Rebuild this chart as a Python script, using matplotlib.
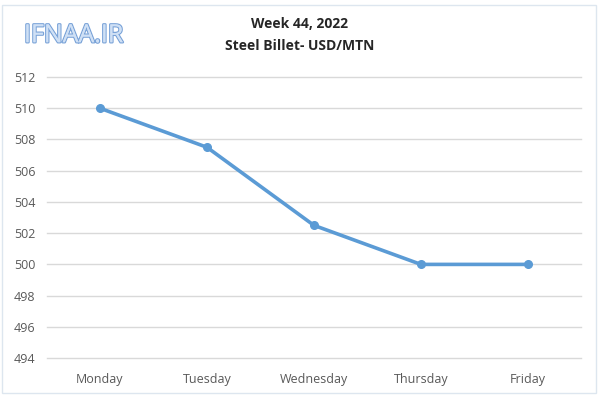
import matplotlib.pyplot as plt
import matplotlib.patheffects as pe
from matplotlib.patches import Rectangle

days = ["Monday", "Tuesday", "Wednesday", "Thursday", "Friday"]
prices = [510, 507.5, 502.5, 500, 500]
yticks = [494, 496, 498, 500, 502, 504, 506, 508, 510, 512]

plt.rcParams['font.family'] = ['Open Sans', 'DejaVu Sans']

fig = plt.figure(figsize=(6, 3.97), dpi=100)
ax = fig.add_axes([0.0775, 0.098, 0.8915, 0.708])

x = list(range(len(days)))
ax.plot(x, prices, color='#5b9bd5', linewidth=2.6, marker='o', markersize=5.5)

ax.set_xlim(-0.5, len(days) - 0.5)
ax.set_ylim(494, 512)
ax.set_yticks(yticks)
ax.set_xticks(x)
ax.set_xticklabels(days)
ax.grid(axis='y', color='#d9d9d9', linewidth=1)
for gl in ax.get_ygridlines():
    gl.set_clip_on(False)
ax.set_axisbelow(True)
for s in ax.spines.values():
    s.set_visible(False)
ax.tick_params(length=0, labelsize=9, colors='#595959')
ax.tick_params(axis='x', pad=11)
ax.tick_params(axis='y', pad=8)

# titles
fig.text(0.5, 0.94, "Week 44, 2022", ha='center', va='center', fontsize=10, fontweight='bold', color='#262626')
fig.text(0.5, 0.884, "Steel Billet- USD/MTN", ha='center', va='center', fontsize=10, fontweight='bold', color='#262626')

# watermark
wm = fig.text(0.04, 0.91, "IFNAA.IR", ha='left', va='center', fontsize=18, color='#cfe0f5')
wm.set_path_effects([pe.withStroke(linewidth=1.8, foreground='#7aa3d8'), pe.Normal()])

# faint outer border
fig.patches.append(Rectangle((0.004, 0.01), 0.99, 0.978, transform=fig.transFigure,
                             fill=False, edgecolor='#dde6ef', linewidth=1))

fig.savefig("out.png", dpi=100)
